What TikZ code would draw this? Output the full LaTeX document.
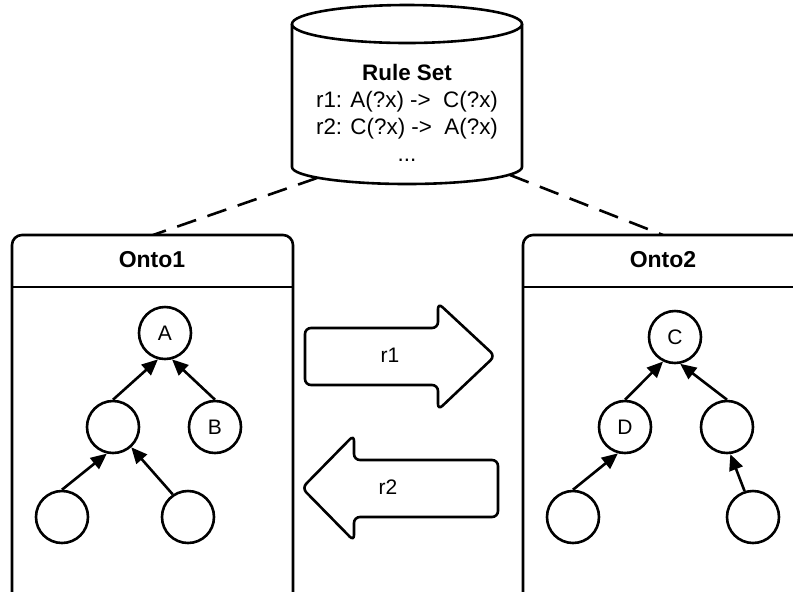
\documentclass[tikz,border=0pt]{standalone}
\usepackage{fontspec}
\setmainfont{Liberation Sans}
\usepackage{tikz}
\usetikzlibrary{arrows.meta, positioning}

\begin{document}
\begin{tikzpicture}[
    x=0.5pt, y=-0.5pt, % 1 unit = 1 pixel of the layout
    % Outlines of the shapes
    outline/.style={
        draw=black, line width=1.3pt, fill=white
    },
    % Classes inside the ontologies
    cls/.style={
        circle, draw=black, line width=1.3pt, fill=white,
        minimum size=26pt, inner sep=0pt,
        font=\fontsize{10.5}{12}\selectfont
    },
    header/.style={font=\fontsize{11.5}{13}\selectfont\bfseries},
    rulename/.style={font=\fontsize{10.5}{12}\selectfont},
    % Connectors
    isa/.style={
        -{Triangle[length=8pt, width=7pt]}, line width=1.3pt
    },
    link/.style={
        line width=1.3pt, dash pattern=on 10pt off 6pt
    }
]
    \useasboundingbox (0,0) rectangle (793,591);
    \clip (0,0) rectangle (793,591);
    \fill[white] (0,0) rectangle (793,591);

    % 1. Rule set store
    \draw[outline] (292,24) -- (292,167)
        arc[start angle=180, end angle=0, x radius=115, y radius=17] -- (522,24);
    \draw[outline] (407,24) ellipse [x radius=115, y radius=19];
    \node[align=center, font=\fontsize{11.2}{13.5}\selectfont] (rules) at (407,113)
        {\textbf{Rule Set}\\r1: A(?x) ->~~C(?x)\\r2: C(?x) ->~~A(?x)\\...};

    \coordinate (dbL) at (317,178);
    \coordinate (dbR) at (510,175);
    \coordinate (o1top) at (153,235);
    \coordinate (o2top) at (663,235);

    % 2. Dashed links to the ontologies
    \draw[link] (dbL) -- (o1top);
    \draw[link] (dbR) -- (o2top);

    % 3. Ontology boxes
    \draw[outline, rounded corners=5pt] (12,600) -- (12,235) -- (293,235) -- (293,600);
    \draw[line width=1.3pt] (12,287) -- (293,287);
    \node[header] (onto1) at (152,260) {Onto1};

    \draw[outline, rounded corners=5pt] (523,600) -- (523,235) -- (803,235) -- (803,600);
    \draw[line width=1.3pt] (523,287) -- (803,287);
    \node[header] (onto2) at (663,260) {Onto2};

    % 4. Onto1 hierarchy
    \node[cls] (a)  at (165,333) {A};
    \node[cls] (m1) at (113,427) {};
    \node[cls] (b)  at (215,427) {B};
    \node[cls] (l1) at (62,517)  {};
    \node[cls] (l2) at (188,517) {};

    \draw[isa] (m1.north) -- (a.-105);
    \draw[isa] (b.north)  -- (a.-75);
    \draw[isa] (l1.north) -- (m1.-103);
    \draw[isa] (l2.124)   -- (m1.-48);

    % 5. Onto2 hierarchy
    \node[cls] (c)  at (675,337) {C};
    \node[cls] (d)  at (625,427) {D};
    \node[cls] (m2) at (727,427) {};
    \node[cls] (k1) at (573,517) {};
    \node[cls] (k2) at (753,517) {};

    \draw[isa] (d.north)  -- (c.-116);
    \draw[isa] (m2.north) -- (c.-79);
    \draw[isa] (k1.north) -- (d.-105);
    \draw[isa] (k2.108)   -- (m2.-83);

    % 6. Rule arrows
    \draw[outline, rounded corners=3pt]
        (305,328) -- (438,328) -- (438,303) -- (495,356)
        -- (438,410) -- (438,385) -- (305,385) -- cycle;
    \node[rulename] (r1) at (390,355) {r1};

    \draw[outline, rounded corners=3pt]
        (498,460) -- (354,460) -- (354,435) -- (302,488)
        -- (354,541) -- (354,517) -- (498,517) -- cycle;
    \node[rulename] (r2) at (388,487) {r2};

\end{tikzpicture}
\end{document}
